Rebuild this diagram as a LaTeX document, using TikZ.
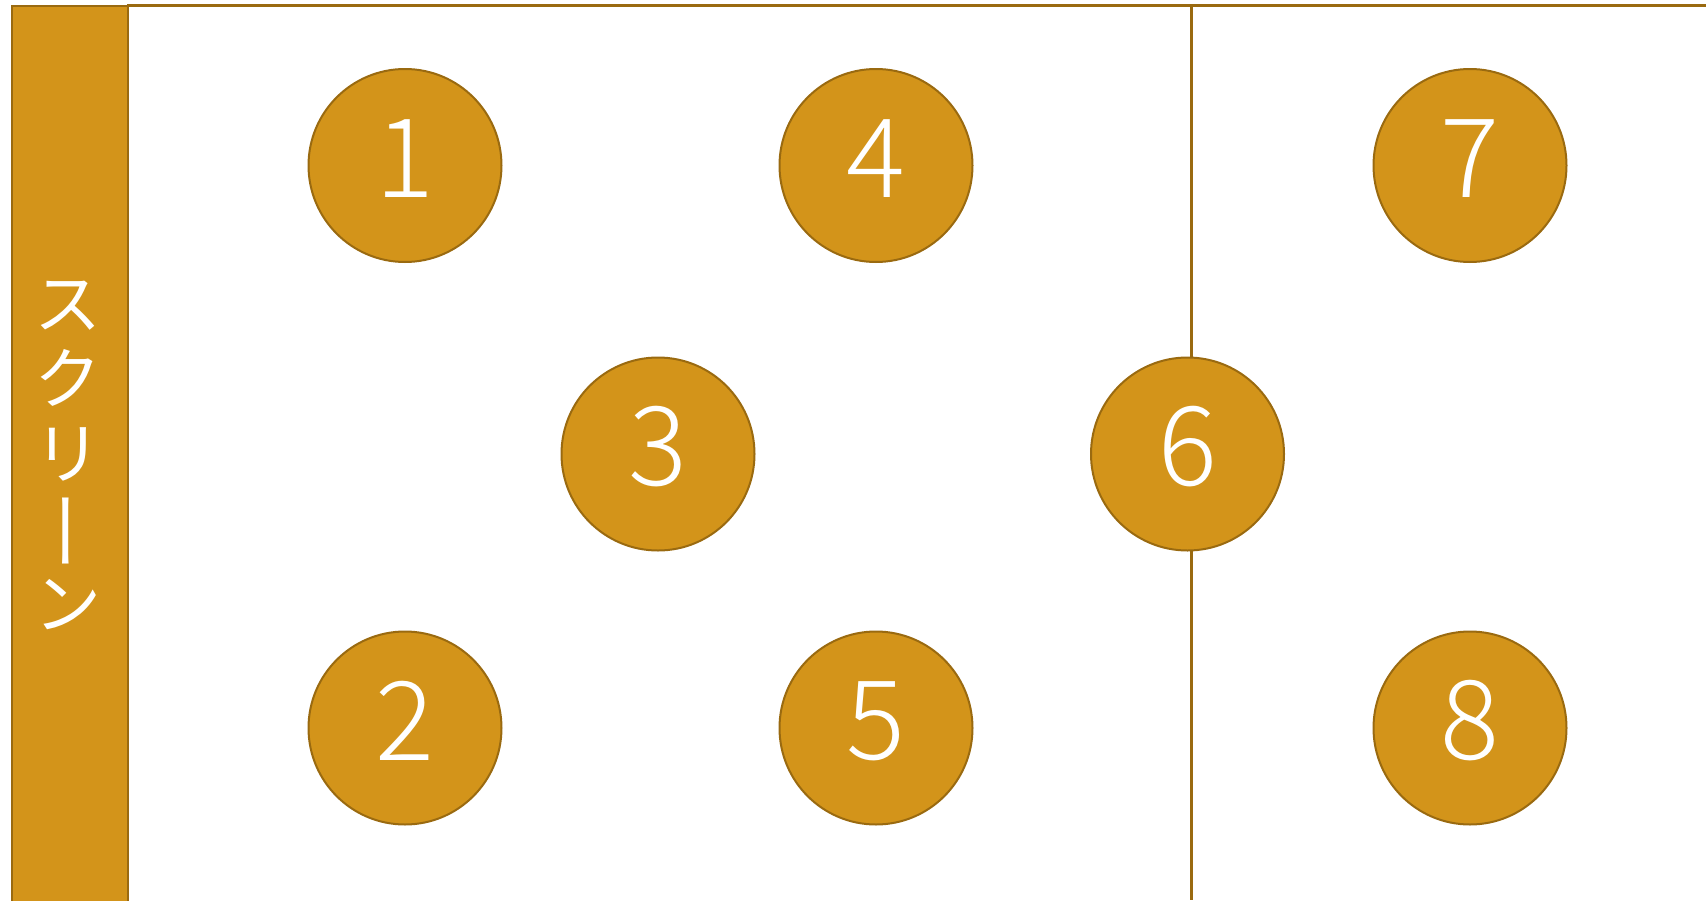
\documentclass[tikz,border=0pt]{standalone}
\usepackage{fontspec}
\usepackage{graphicx}
\setmainfont{Noto Sans CJK JP}
\newfontfamily\cjk{Noto Sans CJK JP}
\newfontfamily\digitfont{Noto Sans CJK JP Light}
\definecolor{gold}{HTML}{D3941A}
\definecolor{goldline}{HTML}{9A6A10}
\begin{document}
\begin{tikzpicture}[x=1pt,y=-1pt,
  seat/.style={circle,draw=goldline,fill=gold,line width=2pt,minimum size=193pt,inner sep=0pt},
  num/.style={text=white,font=\digitfont\fontsize{110}{112}\selectfont,inner sep=0pt},
  rule/.style={draw=goldline,line width=2.5pt}]
\useasboundingbox (0,0) rectangle (1706,900);
% top line and divider
\coordinate (tl) at (127,5.5);
\coordinate (tr) at (1706,5.5);
\coordinate (vt) at (1191.5,5.5);
\coordinate (vb) at (1191.5,900);
\draw[rule] (tl) -- (tr);
\draw[rule] (vt) -- (vb);
% screen bar
\node[draw=goldline,fill=gold,line width=2pt,minimum width=116pt,minimum height=910pt,
  inner sep=0pt,anchor=north west] (bar) at (11,5) {};
\node[text=white,font=\cjk\fontsize{67}{75}\selectfont,align=center,inner sep=0pt] (screen) at (68,455)
  {ス\\ク\\リ\\\hspace*{18pt}\smash{\raisebox{8pt}{\rotatebox[origin=c]{90}{\scalebox{1.24}[1]{ー}}}}\\ン};
% seats
\node[seat] (s1) at (405,165.5) {};
\node[seat] (s4) at (876,165.5) {};
\node[seat] (s7) at (1470,165.5) {};
\node[seat] (s3) at (658,454) {};
\node[seat] (s6) at (1187.5,454) {};
\node[seat] (s2) at (405,728) {};
\node[seat] (s5) at (876,728) {};
\node[seat] (s8) at (1470,728) {};
\node[num] (n1) at ([yshift=7pt]s1.center) {1};
\node[num] (n4) at ([yshift=7pt]s4.center) {4};
\node[num] (n7) at ([yshift=7pt]s7.center) {7};
\node[num] (n3) at ([yshift=7pt]s3.center) {3};
\node[num] (n6) at ([yshift=7pt]s6.center) {6};
\node[num] (n2) at ([yshift=7pt]s2.center) {2};
\node[num] (n5) at ([yshift=7pt]s5.center) {5};
\node[num] (n8) at ([yshift=7pt]s8.center) {8};
\end{tikzpicture}
\end{document}
